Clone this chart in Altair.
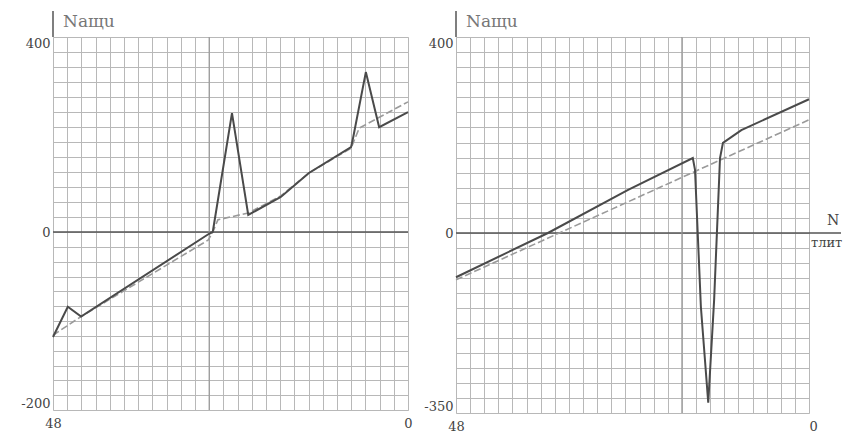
import altair as alt
import pandas as pd

# ---------------- data ----------------
# left panel: main (dark) curve
left_t = [48, 46.0, 44.2, 26.9, 26.4, 23.8, 21.6, 17.2, 13.4, 7.7, 7.4, 5.7, 3.9, 0]
left_n = [-118, -84, -95, -2, 0, 244, 35, 72, 121, 174, 195, 328, 215, 246]
# left panel: light dashed curve
left_tr_t = [48, 44.2, 27.0, 26.4, 25.7, 21.6, 17.2, 13.4, 7.7, 6.6, 0]
left_tr_n = [-116, -95, -9, 0, 25, 39, 74, 121, 172, 213, 267]

# right panel: main (dark) curve
right_t = [48, 35.5, 24.6, 15.8, 15.5, 14.7, 13.7, 12.9, 12.1, 11.7, 9.2, 0]
right_n = [-86, 0, 88, 153, 129, -144, -330, -130, 153, 184, 210, 273]
# right panel: light dashed curve
right_tr_t = [48, 0]
right_tr_n = [-91, 231]

# axis limits / labels
left_limits = [-200, 0, 400]
right_limits = [-350, 0, 400]
x_limits = [48, 0]
y_title = "Nащu"
x_title_top = "N"
x_title_bottom = "тлит"
left_marks = [26.88]
right_marks = [17.28]

FONT = "DejaVu Serif"
TXT = "#444"
FRAME = "#555"
GRID = "#b8b8b8"

x_grid = [round(48 * k / 25, 6) for k in range(26)]


def y_grid(bottom):
    up = [round(400 * k / 13, 6) for k in range(14)]
    down = [round(bottom * k / 12, 6) for k in range(1, 13)]
    return down[::-1] + up


def panel(sol_t, sol_n, tr_t, tr_n, limits, marks, w, h, zero_px, right_side):
    bottom = limits[0]
    xscale = alt.Scale(domain=[0, 48], reverse=True, nice=False, zero=False)
    yscale = alt.Scale(domain=limits, range=[h, zero_px, 0], nice=False, zero=False)
    xaxis = alt.Axis(
        values=x_grid, grid=True, gridColor=GRID, gridWidth=1, ticks=False, domain=False,
        labelExpr="datum.value == 48 ? '48' : datum.value == 0 ? '0' : ''",
        labelFlush=False, labelOverlap=False, labelPadding=7, labelFont=FONT,
        labelFontSize=13, labelColor=TXT, title=None,
        labelAlign=({"condition": {"test": "datum.value == 0", "value": "left"}, "value": "center"}
                    if right_side else "center"),
    )
    yaxis = alt.Axis(
        values=y_grid(bottom), grid=True, gridColor=GRID, gridWidth=1, ticks=False, domain=False,
        labelExpr=("datum.value == 400 ? '400' : datum.value == 0 ? '0' : datum.value == %d ? '%d' : ''"
                   % (bottom, bottom)),
        labelFlush=True, labelOverlap=False, labelPadding=3, labelFont=FONT,
        labelFontSize=13, labelColor=TXT, title=None,
    )
    X = lambda f: alt.X(f, type="quantitative", scale=xscale, axis=xaxis)
    Y = lambda f: alt.Y(f, type="quantitative", scale=yscale, axis=yaxis)

    sol = pd.DataFrame({"t": sol_t, "n": sol_n, "i": range(len(sol_t))})
    tr = pd.DataFrame({"t": tr_t, "n": tr_n, "i": range(len(tr_t))})
    zero = pd.DataFrame({"v": [0]})
    mk = pd.DataFrame({"m": marks})
    dummy = pd.DataFrame({"a": [0]})

    zero_rule = alt.Chart(zero).mark_rule(color=FRAME, strokeWidth=1.5).encode(y=Y("v"))
    mark_rule = alt.Chart(mk).mark_rule(color="#999999", strokeWidth=1.2).encode(x=X("m"))
    trend = alt.Chart(tr).mark_line(color="#9a9a9a", strokeWidth=1.6, strokeDash=[7, 3]).encode(
        x=X("t"), y=Y("n"), order="i:Q")
    main = alt.Chart(sol).mark_line(color="#4a4a4a", strokeWidth=2).encode(
        x=X("t"), y=Y("n"), order="i:Q")
    ext = alt.Chart(dummy).mark_rule(color=FRAME, strokeWidth=1.5).encode(
        x=alt.value(0), y=alt.value(-26), y2=alt.value(0))
    title = alt.Chart(dummy).mark_text(
        text=y_title, font=FONT, fontSize=17, color="#777", align="left", baseline="middle"
    ).encode(x=alt.value(10), y=alt.value(-15))

    layers = [zero_rule, mark_rule, trend, main, ext, title]
    if right_side:
        ext_x = alt.Chart(zero).mark_rule(color=FRAME, strokeWidth=1.5).encode(
            x=alt.value(w), x2=alt.value(w + 32), y=Y("v"))
        lab_top = alt.Chart(zero).mark_text(
            text=x_title_top, font=FONT, fontSize=14, color=TXT, dy=-12
        ).encode(x=alt.value(w + 24), y=Y("v"))
        lab_bot = alt.Chart(zero).mark_text(
            text=x_title_bottom, font=FONT, fontSize=13, color=TXT, dy=10, align="left"
        ).encode(x=alt.value(w + 2), y=Y("v"))
        layers += [ext_x, lab_top, lab_bot]
    return alt.layer(*layers).properties(width=w, height=h)


left = panel(left_t, left_n, left_tr_t, left_tr_n, left_limits, left_marks, 355, 373, 195, False)
right = panel(right_t, right_n, right_tr_t, right_tr_n, right_limits, right_marks, 353, 376, 196, True)

chart = (
    alt.hconcat(left, right, spacing=10)
    .properties(padding={"left": 12, "top": 1, "right": 0, "bottom": 0})
    .configure_view(stroke=FRAME, strokeWidth=1.5)
    .configure(background="white")
)

chart.save("out.html", embed_options={"renderer": "svg", "actions": False})
